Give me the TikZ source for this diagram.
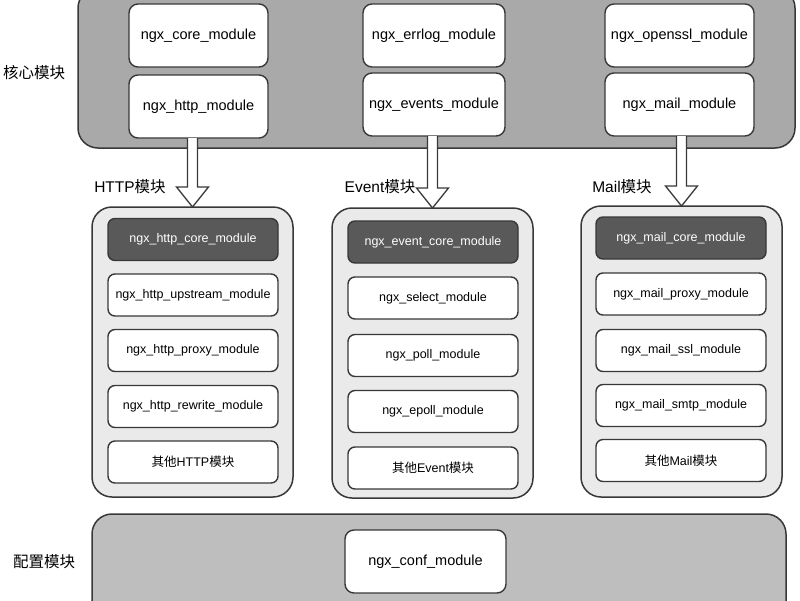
\documentclass[tikz,border=0pt]{standalone}
\usepackage{fontspec}
\setmainfont{Liberation Sans}
\newfontfamily\cjk{Noto Sans CJK SC}
\usetikzlibrary{calc}
\definecolor{edge}{HTML}{383838}
\definecolor{toppanel}{HTML}{A9A9A9}
\definecolor{midpanel}{HTML}{EAEAEA}
\definecolor{botpanel}{HTML}{BEBEBE}
\definecolor{corefill}{HTML}{595959}
\tikzset{
  panel/.style={draw=edge, line width=1.5pt, rounded corners=20pt, inner sep=0pt, outer sep=0pt},
  topbox/.style={draw=edge, line width=1.4pt, fill=white, rounded corners=9pt, inner sep=0pt, outer sep=0pt, minimum height=63pt, font=\fontsize{14.5}{16}\selectfont},
  midbox/.style={draw=edge, line width=1.4pt, fill=white, rounded corners=7pt, inner sep=0pt, outer sep=0pt, minimum width=170pt, minimum height=42pt, font=\fontsize{12.5}{14}\selectfont},
  corebox/.style={midbox, fill=corefill, text=white},
  grouplabel/.style={inner sep=0pt, font=\fontsize{15.5}{17}\selectfont},
  barrow/.style={draw=edge, line width=1.3pt, fill=white, line join=miter}
}
\newcommand\blockarrow[2]{%
  \coordinate (ba-s) at (#2.north |- #1.south);
  \coordinate (ba-t) at (#2.north);
  \draw[barrow] ($(ba-s)+(-5,0)$) -- ($(ba-t)+(-5,-20)$) -- ($(ba-t)+(-16,-20)$) -- (ba-t)
    -- ($(ba-t)+(16,-20)$) -- ($(ba-t)+(5,-20)$) -- ($(ba-s)+(5,0)$);
}
\begin{document}
\begin{tikzpicture}[x=1pt,y=-1pt]
\useasboundingbox (0,0) rectangle (800,600);
\clip (0,0) rectangle (800,600);
\fill[white] (0,0) rectangle (800,600);

% core panel
\node[panel, fill=toppanel, minimum width=717pt, minimum height=160pt] (toppanel) at (436.5,68) {};
\node[grouplabel] (corelabel) at (34,73) {\cjk 核心模块};
\node[topbox, minimum width=139pt] (core) at (198.5,35.5) {ngx\_core\_module};
\node[topbox, minimum width=139pt] (http) at (198.5,106.5) {ngx\_http\_module};
\node[topbox, minimum width=142pt] (errlog) at (434,35.5) {ngx\_errlog\_module};
\node[topbox, minimum width=142pt] (events) at (434,104.5) {ngx\_events\_module};
\node[topbox, minimum width=149pt] (openssl) at (679.5,35.5) {ngx\_openssl\_module};
\node[topbox, minimum width=149pt] (mail) at (679.5,104.5) {ngx\_mail\_module};

% HTTP panel
\node[panel, fill=midpanel, minimum width=201pt, minimum height=290pt] (httppanel) at (192.5,352) {};
\node[corebox] (hcore) at (193,239.5) {ngx\_http\_core\_module};
\node[midbox] (hup) at (193,295) {ngx\_http\_upstream\_module};
\node[midbox] (hproxy) at (193,350.5) {ngx\_http\_proxy\_module};
\node[midbox] (hrewrite) at (193,406.5) {ngx\_http\_rewrite\_module};
\node[midbox] (hother) at (193,462) {{\cjk 其他}HTTP{\cjk 模块}};

% Event panel
\node[panel, fill=midpanel, minimum width=201pt, minimum height=290pt] (eventpanel) at (432.5,353) {};
\node[corebox] (ecore) at (433,242) {ngx\_event\_core\_module};
\node[midbox] (eselect) at (433,298) {ngx\_select\_module};
\node[midbox] (epoll) at (433,355.5) {ngx\_poll\_module};
\node[midbox] (eepoll) at (433,411.5) {ngx\_epoll\_module};
\node[midbox] (eother) at (433,468) {{\cjk 其他}Event{\cjk 模块}};

% Mail panel
\node[panel, fill=midpanel, minimum width=201pt, minimum height=291pt] (mailpanel) at (681.5,351.5) {};
\node[corebox] (mcore) at (681,238) {ngx\_mail\_core\_module};
\node[midbox] (mproxy) at (681,294) {ngx\_mail\_proxy\_module};
\node[midbox] (mssl) at (681,350.5) {ngx\_mail\_ssl\_module};
\node[midbox] (msmtp) at (681,405.5) {ngx\_mail\_smtp\_module};
\node[midbox] (mother) at (681,460.5) {{\cjk 其他}Mail{\cjk 模块}};

% group labels
\node[grouplabel] (httplabel) at (130,187) {HTTP{\cjk 模块}};
\node[grouplabel] (eventlabel) at (380,187) {Event{\cjk 模块}};
\node[grouplabel] (maillabel) at (622,187) {Mail{\cjk 模块}};

% arrows
\blockarrow{http}{httppanel}
\blockarrow{events}{eventpanel}
\blockarrow{mail}{mailpanel}

% config panel
\node[panel, fill=botpanel, minimum width=694pt, minimum height=110pt] (botpanel) at (439,569) {};
\node[grouplabel] (conflabel) at (44,562) {\cjk 配置模块};
\node[topbox, minimum width=161pt] (conf) at (425.5,561.5) {ngx\_conf\_module};
\end{tikzpicture}
\end{document}
